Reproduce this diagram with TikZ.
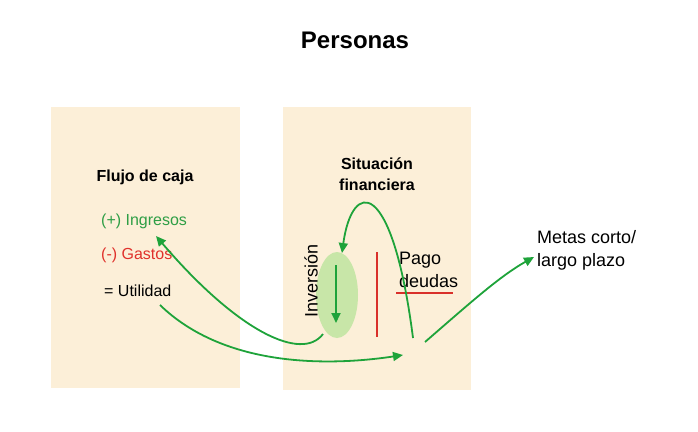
\documentclass[tikz,border=0pt]{standalone}
\usepackage{fontspec}
\setmainfont{Liberation Sans}
\usetikzlibrary{arrows.meta,shapes.geometric}
\definecolor{boxfill}{HTML}{FCEFD8}
\definecolor{txtgreen}{HTML}{2E9E45}
\definecolor{txtred}{HTML}{E0312B}
\definecolor{arrgreen}{HTML}{1EA33A}
\definecolor{ellfill}{HTML}{C8E6A8}
\definecolor{linered}{HTML}{D9302A}
\tikzset{
  panel/.style={fill=boxfill, draw=none},
  flow/.style={draw=arrgreen, line width=1.8pt, -{Triangle[length=10pt,width=9pt]}},
  plain/.style={font=\fontsize{16}{20}\selectfont, inner sep=0pt},
  heading/.style={font=\fontsize{16}{21}\selectfont\bfseries, inner sep=0pt, align=center},
  big/.style={font=\fontsize{18}{23}\selectfont, inner sep=0pt, align=left},
  redline/.style={draw=linered, line width=1.3pt}
}
\begin{document}
\begin{tikzpicture}[x=1pt,y=-1pt]
\useasboundingbox (0,0) rectangle (698,431);
\fill[white] (0,0) rectangle (698,431);
\path[panel] (51,107) rectangle (240,388);
\path[panel] (283,107) rectangle (471,390);
\node[font=\fontsize{24}{28}\selectfont\bfseries, inner sep=0pt] (title) at (355,40) {Personas};
\node[heading] (flujo) at (145,177) {Flujo de caja};
\node[plain, text=txtgreen, anchor=west] (ing) at (101,221) {(+) Ingresos};
\node[plain, text=txtred, anchor=west] (gas) at (101,255) {(-) Gastos};
\node[plain, anchor=west] (uti) at (104,291) {= Utilidad};
\node[heading] (sit) at (377,174) {Situación\\financiera};
\node[ellipse, fill=ellfill, minimum width=42pt, minimum height=86pt, inner sep=0pt] (ell) at (337,295) {};
\node[big, rotate=90] (inv) at (311,281) {Inversión};
\node[big, anchor=west] (pago) at (399,270) {Pago\\deudas};
\node[big, anchor=west] (metas) at (537,250) {Metas corto/\\largo plazo};
\coordinate (rt) at (377,252);
\coordinate (rb) at (377,337);
\coordinate (hl) at (396,293);
\coordinate (hr) at (453,293);
\draw[redline] (rt) -- (rb);
\draw[redline] (hl) -- (hr);
\coordinate (d1) at (336,265);
\coordinate (d2) at (336,323);
\draw[flow] (d1) -- (d2);
\coordinate (a1) at (323,334);
\coordinate (a1e) at (156,236);
\draw[flow] (a1) .. controls (302,362) and (238,332) .. (a1e);
\coordinate (b1) at (160,305);
\coordinate (b1e) at (403,355);
\draw[flow] (b1) .. controls (225,368) and (330,366) .. (b1e);
\coordinate (c1) at (413,338);
\coordinate (c1e) at (342,253);
\draw[flow] (c1) .. controls (392,175) and (352,180) .. (c1e);
\coordinate (e1) at (425,342);
\coordinate (e1e) at (534,257);
\draw[flow] (e1) .. controls (470,303) and (500,276) .. (e1e);
\end{tikzpicture}
\end{document}
